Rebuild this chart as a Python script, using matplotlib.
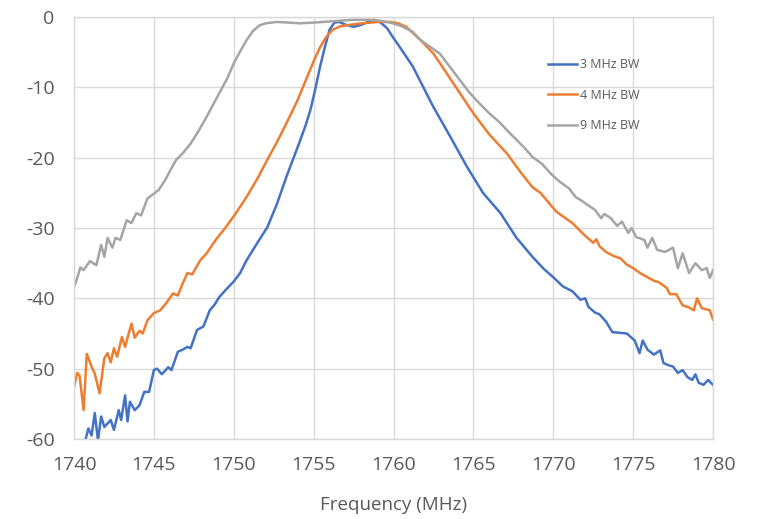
import matplotlib
matplotlib.use("Agg")
import matplotlib.pyplot as plt

plt.rcParams['font.family'] = ['Open Sans', 'DejaVu Sans']
plt.rcParams['axes.unicode_minus'] = False

# ---- data ----
f_9 = [1740.0, 1740.15, 1740.4, 1740.6, 1741.0, 1741.4, 1741.7, 1741.9, 1742.1, 1742.4,
       1742.6, 1742.9, 1743.3, 1743.6, 1743.9, 1744.2, 1744.6, 1744.9, 1745.3, 1745.7,
       1746.1, 1746.4, 1746.8, 1747.3, 1747.8, 1748.3, 1748.7, 1749.1, 1749.6, 1750.0,
       1750.4, 1750.8, 1751.2, 1751.6, 1752.0, 1752.7, 1753.5, 1754.1, 1755.0, 1756.2,
       1757.5, 1758.5, 1759.1, 1759.8, 1760.5, 1761.2, 1761.7, 1762.9, 1763.7, 1764.7,
       1765.3, 1766.0, 1766.7, 1767.1, 1767.5, 1768.2, 1768.7, 1769.3, 1769.9, 1770.4,
       1771.0, 1771.4, 1771.7, 1772.2, 1772.6, 1773.0, 1773.2, 1773.6, 1774.0, 1774.3,
       1774.7, 1774.9, 1775.2, 1775.7, 1775.9, 1776.2, 1776.5, 1777.0, 1777.5, 1777.8,
       1778.1, 1778.5, 1778.9, 1779.3, 1779.6, 1779.8, 1780.0]
db_9 = [-38.4, -37.5, -35.6, -36.0, -34.7, -35.3, -32.4, -34.1, -31.4, -32.8,
        -31.4, -31.7, -28.9, -29.3, -27.9, -28.2, -25.8, -25.3, -24.6, -23.2,
        -21.5, -20.3, -19.4, -18.0, -16.2, -14.2, -12.5, -10.8, -8.7, -6.6,
        -4.9, -3.3, -2.0, -1.2, -0.9, -0.7, -0.8, -0.9, -0.8, -0.6,
        -0.4, -0.4, -0.5, -0.8, -1.3, -2.1, -3.3, -5.2, -7.6, -10.6,
        -12.1, -13.7, -15.1, -16.1, -17.0, -18.6, -19.9, -20.9, -22.4, -23.4,
        -24.4, -25.6, -26.0, -26.8, -27.4, -28.6, -28.0, -28.6, -29.7, -29.1,
        -30.7, -30.0, -31.3, -31.7, -32.8, -31.4, -33.1, -33.4, -32.8, -35.7,
        -33.6, -36.4, -35.0, -36.0, -35.7, -37.1, -36.0]

f_4 = [1740.0, 1740.2, 1740.35, 1740.6, 1740.8, 1741.1, 1741.3, 1741.6, 1741.9, 1742.1,
       1742.3, 1742.5, 1742.7, 1743.0, 1743.2, 1743.4, 1743.6, 1743.8, 1744.1, 1744.3,
       1744.6, 1745.0, 1745.4, 1745.8, 1746.2, 1746.5, 1746.8, 1747.1, 1747.4, 1747.9,
       1748.3, 1748.9, 1749.5, 1750.1, 1750.8, 1751.5, 1752.1, 1752.7, 1753.3, 1754.0,
       1754.6, 1755.0, 1755.4, 1755.8, 1756.2, 1756.7, 1757.3, 1758.0, 1759.1, 1759.8,
       1760.3, 1760.8, 1761.7, 1762.5, 1763.3, 1764.0, 1765.0, 1766.0, 1767.1, 1768.0,
       1768.7, 1769.2, 1770.2, 1771.2, 1771.9, 1772.5, 1772.7, 1772.9, 1773.3, 1773.8,
       1774.2, 1774.6, 1775.0, 1775.5, 1775.9, 1776.3, 1776.6, 1777.1, 1777.3, 1777.7,
       1778.1, 1778.5, 1778.8, 1779.0, 1779.3, 1779.8, 1780.0]
db_4 = [-52.6, -50.6, -51.0, -55.9, -47.9, -49.7, -50.7, -53.5, -48.5, -47.8,
        -49.1, -47.1, -48.3, -45.5, -46.9, -45.2, -43.6, -45.6, -44.6, -45.0,
        -43.1, -42.1, -41.7, -40.6, -39.3, -39.6, -37.9, -36.4, -36.6, -34.6,
        -33.6, -31.6, -29.9, -28.0, -25.6, -22.9, -20.3, -17.8, -15.1, -11.8,
        -8.5, -6.3, -4.3, -2.8, -1.8, -1.3, -1.1, -0.9, -0.7, -0.7,
        -0.9, -1.4, -3.3, -5.2, -7.9, -10.3, -13.7, -16.7, -19.4, -22.2,
        -24.2, -25.0, -27.7, -29.3, -30.9, -32.1, -31.6, -32.6, -33.4, -34.0,
        -34.3, -35.2, -35.7, -36.5, -37.0, -37.5, -37.7, -38.5, -39.4, -39.4,
        -41.0, -41.3, -41.7, -40.0, -41.4, -41.7, -43.0]

f_3 = [1740.7, 1740.9, 1741.1, 1741.3, 1741.5, 1741.7, 1741.9, 1742.1, 1742.3, 1742.5,
       1742.8, 1742.95, 1743.2, 1743.35, 1743.5, 1743.8, 1744.1, 1744.4, 1744.7, 1745.0,
       1745.2, 1745.5, 1745.9, 1746.1, 1746.5, 1746.8, 1747.1, 1747.3, 1747.7, 1748.1,
       1748.5, 1748.8, 1749.1, 1749.5, 1750.0, 1750.4, 1750.8, 1751.4, 1752.1, 1752.7,
       1753.3, 1753.7, 1754.1, 1754.5, 1754.8, 1755.1, 1755.4, 1755.7, 1756.0, 1756.3,
       1756.6, 1757.0, 1757.5, 1758.0, 1758.4, 1758.8, 1759.2, 1759.6, 1760.0, 1760.4,
       1761.2, 1762.5, 1763.5, 1764.6, 1765.6, 1766.7, 1767.7, 1768.7, 1769.4, 1770.0,
       1770.6, 1771.2, 1771.7, 1772.0, 1772.2, 1772.6, 1772.9, 1773.3, 1773.7, 1774.6,
       1775.1, 1775.4, 1775.6, 1775.9, 1776.3, 1776.7, 1776.9, 1777.2, 1777.5, 1777.8,
       1778.1, 1778.4, 1778.7, 1778.9, 1779.1, 1779.4, 1779.7, 1780.0]
db_3 = [-60.3, -58.5, -59.5, -56.3, -60.2, -56.8, -58.3, -57.8, -57.3, -58.7,
        -55.9, -57.3, -53.8, -57.5, -54.7, -55.9, -55.2, -53.3, -53.3, -50.2,
        -50.0, -50.8, -49.8, -50.2, -47.6, -47.3, -46.9, -47.1, -44.5, -44.0,
        -41.7, -40.9, -39.8, -38.8, -37.6, -36.4, -34.6, -32.4, -29.9, -26.6,
        -22.7, -20.3, -17.9, -15.4, -13.2, -10.3, -7.1, -4.3, -1.8, -0.8,
        -0.7, -1.1, -1.4, -1.1, -0.7, -0.4, -0.8, -1.6, -3.0, -4.3,
        -7.0, -12.8, -16.8, -21.3, -25.0, -27.9, -31.4, -34.1, -35.8, -37.0,
        -38.3, -39.0, -40.2, -40.0, -41.2, -42.0, -42.3, -43.3, -44.8, -45.0,
        -46.0, -47.8, -46.0, -47.3, -48.0, -47.4, -49.2, -49.5, -49.7, -50.6,
        -50.2, -51.2, -51.6, -50.8, -52.0, -52.3, -51.6, -52.3]

labels = ["3 MHz BW", "4 MHz BW", "9 MHz BW"]
colors = ["#4472C4", "#ED7D31", "#A5A5A5"]
xticks = [1740, 1745, 1750, 1755, 1760, 1765, 1770, 1775, 1780]
yticks = [-60, -50, -40, -30, -20, -10, 0]

fig = plt.figure(figsize=(7.61, 5.19), dpi=100)
ax = fig.add_axes([74/761, 1-439/519, (713-74)/761, (439-17)/519])

series = [(f_3, db_3), (f_4, db_4), (f_9, db_9)]
for (f, d), lab, c in zip(series, labels, colors):
    ax.plot(f, d, color=c, lw=1.8, label=lab, solid_joinstyle='round')

ax.set_xlim(1740, 1780)
ax.set_ylim(-60, 0)
ax.set_xticks(xticks)
ax.set_yticks(yticks)
ax.grid(True, color="#D9D9D9", lw=1.0)
ax.set_axisbelow(True)
for s in ax.spines.values():
    s.set_color("#D9D9D9")
    s.set_linewidth(1.0)
ax.tick_params(length=0, labelsize=14, labelcolor="#595959")
ax.tick_params(axis='x', pad=12)
ax.tick_params(axis='y', pad=14)
ax.set_xlabel("Frequency (MHz)", fontsize=13.5, color="#595959", labelpad=16)

leg = ax.legend(loc='upper left', bbox_to_anchor=((548-74)/639, 1-(58-17)/422),
                frameon=False, fontsize=9, handlelength=2.3, handletextpad=0.25,
                labelspacing=1.4, borderpad=0, borderaxespad=0)
for t in leg.get_texts():
    t.set_color("#595959")

fig.savefig("out.png", dpi=100)
